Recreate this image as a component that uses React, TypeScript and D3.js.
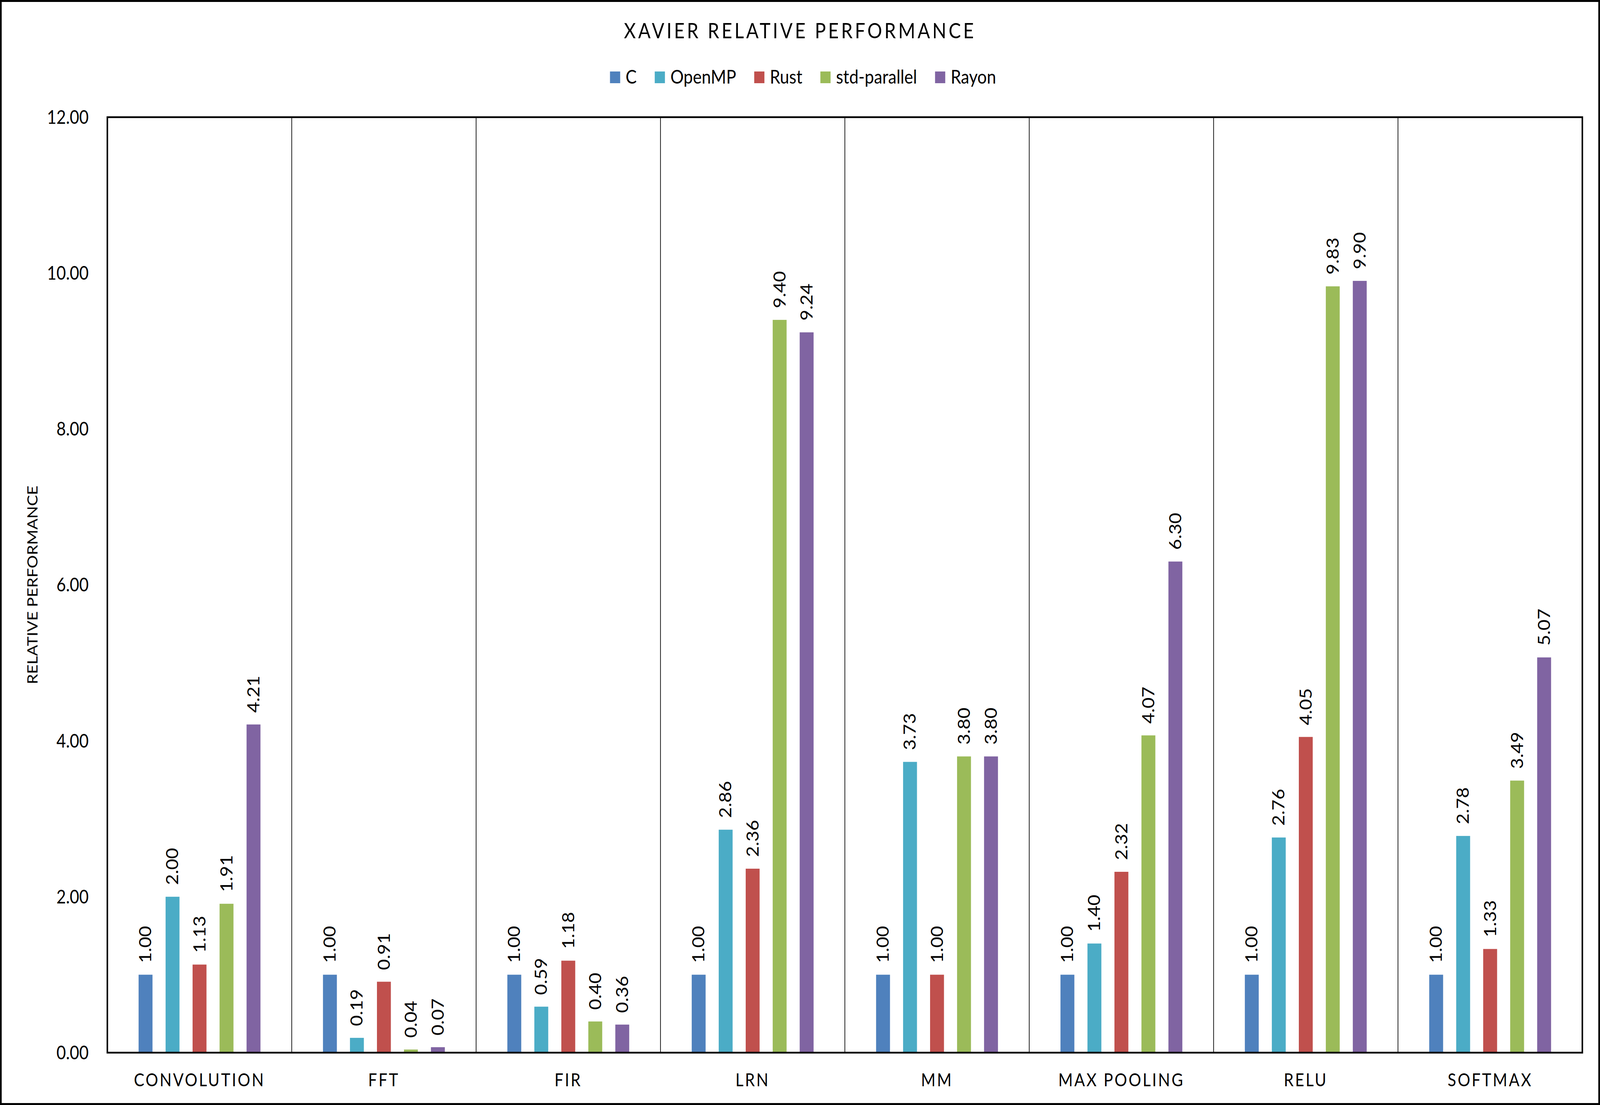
import React, { useEffect, useRef } from 'react';
import * as d3 from 'd3';

const categories = ['CONVOLUTION', 'FFT', 'FIR', 'LRN', 'MM', 'MAX POOLING', 'RELU', 'SOFTMAX'];
const seriesNames = ['C', 'OpenMP', 'Rust', 'std-parallel', 'Rayon'];
const seriesColors = ['#4F81BD', '#4BACC6', '#C0504D', '#9BBB59', '#8064A2'];

// values per series, in category order
const cValues = [1.0, 1.0, 1.0, 1.0, 1.0, 1.0, 1.0, 1.0];
const openmpValues = [2.0, 0.19, 0.59, 2.86, 3.73, 1.4, 2.76, 2.78];
const rustValues = [1.13, 0.91, 1.18, 2.36, 1.0, 2.32, 4.05, 1.33];
const stdParallelValues = [1.91, 0.04, 0.4, 9.4, 3.8, 4.07, 9.83, 3.49];
const rayonValues = [4.21, 0.07, 0.36, 9.24, 3.8, 6.3, 9.9, 5.07];

const yTicks = [0, 2, 4, 6, 8, 10, 12];

const W = 4710;
const H = 2829;
const FONT = "Lato, 'Open Sans', sans-serif";

const App: React.FC = () => {
  const svgRef = useRef<SVGSVGElement>(null);

  useEffect(() => {
    document.body.style.margin = '0';
    document.body.style.overflow = 'hidden';
    if (!svgRef.current) return;
    const svg = d3.select(svgRef.current);
    svg.selectAll('*').remove();

    const series = [cValues, openmpValues, rustValues, stdParallelValues, rayonValues];
    const margin = { top: 300, right: 52, bottom: 134, left: 316 };
    const plotW = W - margin.left - margin.right;
    const plotH = H - margin.top - margin.bottom;

    svg.append('rect')
      .attr('x', 0).attr('y', 0).attr('width', W).attr('height', H)
      .attr('fill', '#fff');
    svg.append('rect')
      .attr('x', 2.5).attr('y', 2.5).attr('width', W - 5).attr('height', H - 5)
      .attr('fill', 'none').attr('stroke', '#000').attr('stroke-width', 5);

    // title
    svg.append('text')
      .attr('x', W / 2).attr('y', 98)
      .attr('text-anchor', 'middle')
      .attr('font-family', FONT).attr('font-size', 54)
      .attr('letter-spacing', 6.8)
      .text('XAVIER RELATIVE PERFORMANCE');

    // legend
    const legend = svg.append('g');
    let lx = 0;
    seriesNames.forEach((name, i) => {
      const item = legend.append('g').attr('transform', `translate(${lx},0)`);
      item.append('rect')
        .attr('x', 0).attr('y', 183).attr('width', 30).attr('height', 30)
        .attr('fill', seriesColors[i]);
      const t = item.append('text')
        .attr('x', 46).attr('y', 214)
        .attr('font-family', FONT).attr('font-size', 49)
        .text(name);
      const tw = (t.node() as SVGTextElement).getComputedTextLength();
      lx += 46 + tw + 53;
    });
    const legendW = lx - 53;
    legend.attr('transform', `translate(${W / 2 + 9 - legendW / 2},0)`);

    const g = svg.append('g').attr('transform', `translate(${margin.left},${margin.top})`);

    const x0 = d3.scaleBand<string>().domain(categories).range([0, plotW]);
    const x1 = d3.scaleBand<string>()
      .domain(seriesNames)
      .range([0, x0.bandwidth() * 0.732])
      .paddingInner(0.485)
      .paddingOuter(0.2425);
    const groupOffset = (x0.bandwidth() - x0.bandwidth() * 0.732) / 2;
    const y = d3.scaleLinear().domain([0, 12]).range([plotH, 0]);

    // category separators
    g.selectAll('line.sep')
      .data(categories.slice(1))
      .enter()
      .append('line')
      .attr('x1', d => x0(d)!).attr('x2', d => x0(d)!)
      .attr('y1', 0).attr('y2', plotH)
      .attr('stroke', '#000').attr('stroke-width', 2);

    // bars + labels
    categories.forEach((cat, ci) => {
      const cg = g.append('g').attr('transform', `translate(${x0(cat)! + groupOffset},0)`);
      seriesNames.forEach((name, si) => {
        const v = series[si][ci];
        const bx = x1(name)!;
        cg.append('rect')
          .attr('x', bx).attr('y', y(v))
          .attr('width', x1.bandwidth()).attr('height', plotH - y(v))
          .attr('fill', seriesColors[si]);
        cg.append('text')
          .attr('transform', `translate(${bx + x1.bandwidth() / 2 + 17},${y(v) - 30}) rotate(-90)`)
          .attr('font-family', FONT).attr('font-size', 48)
          .text(d3.format('.2f')(v));
      });
    });

    // plot border
    g.append('rect')
      .attr('x', 0).attr('y', 0).attr('width', plotW).attr('height', plotH)
      .attr('fill', 'none').attr('stroke', '#000').attr('stroke-width', 4.5);

    // y tick labels
    g.selectAll('text.ytick')
      .data(yTicks)
      .enter()
      .append('text')
      .attr('x', -55).attr('y', d => y(d) + 17)
      .attr('text-anchor', 'end')
      .attr('font-family', FONT).attr('font-size', 48)
      .text(d => d3.format('.2f')(d));

    // x labels
    g.selectAll('text.xlab')
      .data(categories)
      .enter()
      .append('text')
      .attr('x', d => x0(d)! + x0.bandwidth() / 2)
      .attr('y', plotH + 86)
      .attr('text-anchor', 'middle')
      .attr('font-family', FONT).attr('font-size', 46)
      .attr('letter-spacing', 4.5)
      .text(d => d);

    // y axis title
    svg.append('text')
      .attr('transform', `translate(110,${margin.top + plotH / 2}) rotate(-90)`)
      .attr('text-anchor', 'middle')
      .attr('font-family', FONT).attr('font-size', 42)
      .text('RELATIVE PERFORMANCE');
  }, []);

  return (
    <svg
      ref={svgRef}
      viewBox={`0 0 ${W} ${H}`}
      preserveAspectRatio="none"
      style={{ display: 'block', width: '100vw', height: '100vh' }}
    />
  );
};

export default App;
